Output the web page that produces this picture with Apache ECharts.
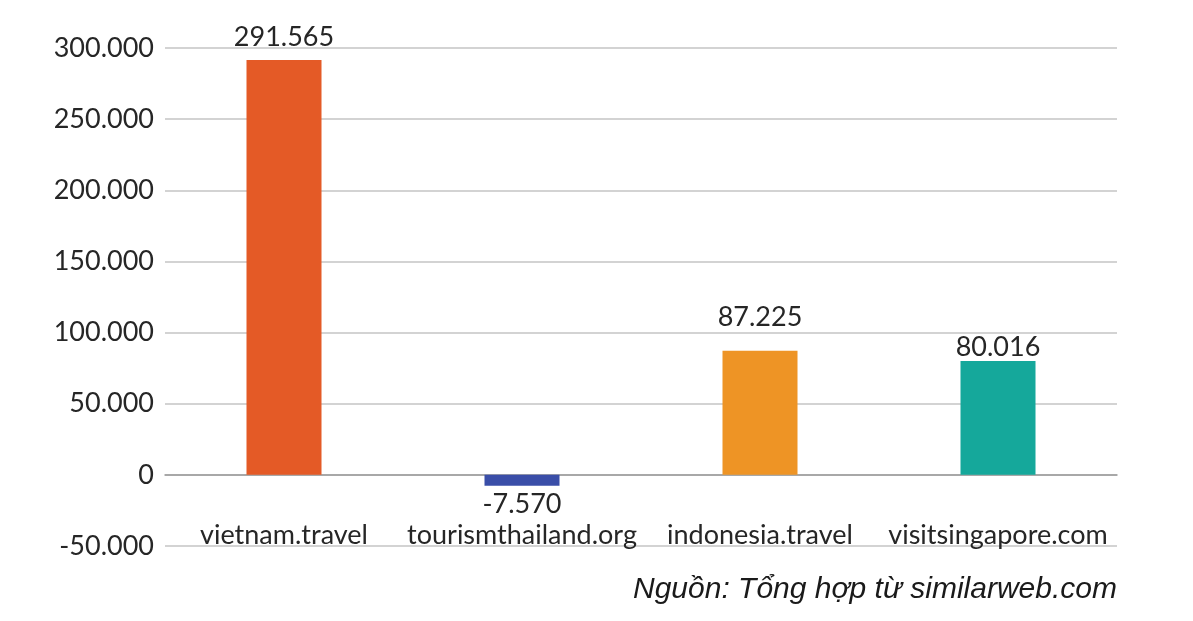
<!DOCTYPE html>
<html>
<head>
<meta charset="utf-8">
<script src="https://cdn.jsdelivr.net/npm/echarts@6/dist/echarts.min.js"></script>
<style>
html,body{margin:0;padding:0;background:#fff;}
#chart{width:1193px;height:621px;}
</style>
</head>
<body>
<div id="chart"></div>
<script>
const categories = ['vietnam.travel', 'tourismthailand.org', 'indonesia.travel', 'visitsingapore.com'];
const values = [291565, -7570, 87225, 80016];
const barColors = ['#E45A26', '#3A4EA8', '#EE9425', '#15A89B'];
const sourceText = 'Nguồn: Tổng hợp từ similarweb.com';

function fmt(v) {
  const neg = v < 0;
  const s = Math.abs(v).toString().replace(/\B(?=(\d{3})+(?!\d))/g, '.');
  return (neg ? '-' : '') + s;
}

// label gap above/below each bar (style only)
const labelGap = [9, 5, 20, 0];

const chart = echarts.init(document.getElementById('chart'));
chart.setOption({
  animation: false,
  backgroundColor: '#fff',
  grid: { left: 165, right: 76, top: 48, bottom: 75 },
  xAxis: {
    type: 'category',
    data: categories,
    axisLine: { onZero: true, lineStyle: { color: '#9a9a9a', width: 1.5 } },
    axisTick: { show: false },
    axisLabel: { interval: 0, margin: -24, fontFamily: 'Lato', fontSize: 27, color: '#262626' }
  },
  yAxis: {
    type: 'value',
    min: -50000,
    max: 300000,
    interval: 50000,
    axisLine: { show: false },
    axisTick: { show: false },
    splitLine: { lineStyle: { color: '#c4c4c4', width: 1.5 } },
    axisLabel: { formatter: fmt, fontFamily: 'Lato', fontSize: 27, color: '#262626', margin: 11 }
  },
  series: [{
    type: 'bar',
    barWidth: 75,
    data: values.map((v, i) => ({
      value: v,
      itemStyle: { color: barColors[i] },
      label: { position: v < 0 ? 'bottom' : 'top', distance: labelGap[i] }
    })),
    label: {
      show: true,
      formatter: p => fmt(p.value),
      fontFamily: 'Lato',
      fontSize: 27,
      color: '#262626'
    }
  }],
  graphic: [{
    type: 'text',
    right: 76,
    top: 575,
    style: {
      text: sourceText,
      font: 'italic 30px "Liberation Sans"',
      fill: '#1a1a1a'
    }
  }]
});
</script>
</body>
</html>
